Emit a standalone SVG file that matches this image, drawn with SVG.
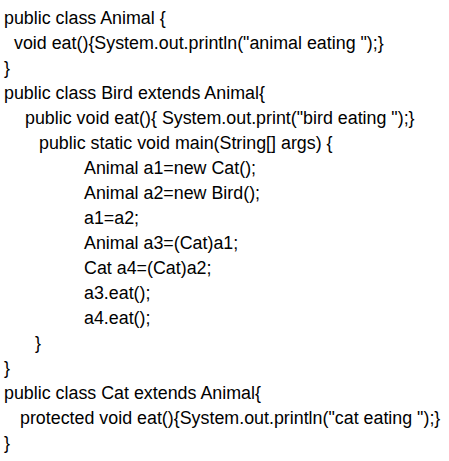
<svg xmlns="http://www.w3.org/2000/svg" width="449" height="461" viewBox="0 0 449 461">
<style>
text{font-family:"Liberation Sans",Arial,sans-serif;font-size:17.85px;fill:#000;}
</style>
<rect width="449" height="461" fill="#fff"/>
<g id="code">
<text x="4" y="23.5">public class Animal {</text>
<text x="14" y="48.5">void eat(){System.out.println("animal eating ");}</text>
<text x="4" y="73.6">}</text>
<text x="4" y="98.7">public class Bird extends Animal{</text>
<text x="25" y="123.7">public void eat(){ System.out.print("bird eating ");}</text>
<text x="39" y="148.8">public static void main(String[] args) {</text>
<text x="84" y="173.8">Animal a1=new Cat();</text>
<text x="84" y="198.9">Animal a2=new Bird();</text>
<text x="84" y="223.9">a1=a2;</text>
<text x="84" y="249">Animal a3=(Cat)a1;</text>
<text x="84" y="274">Cat a4=(Cat)a2;</text>
<text x="84" y="299.1">a3.eat();</text>
<text x="84" y="324.1">a4.eat();</text>
<text x="35" y="349.2">}</text>
<text x="4" y="374.2">}</text>
<text x="4" y="399.3">public class Cat extends Animal{</text>
<text x="20" y="424.3">protected void eat(){System.out.println("cat eating ");}</text>
<text x="4" y="449.4">}</text>
</g>
</svg>
